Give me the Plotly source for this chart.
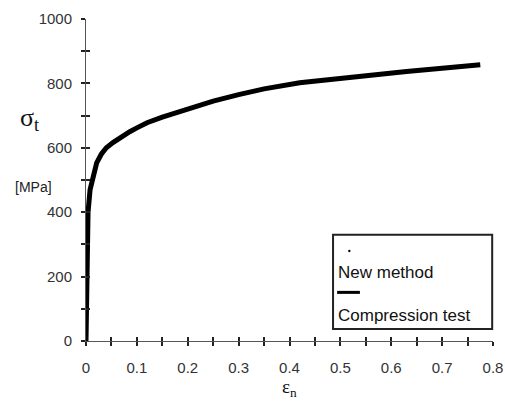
import plotly.graph_objects as go

# Compression test curve (true stress vs strain)
strain = [0, 0.001, 0.002, 0.004, 0.008, 0.015, 0.021, 0.03, 0.04, 0.053, 0.07, 0.086,
          0.1, 0.12, 0.15, 0.185, 0.22, 0.25, 0.3, 0.35, 0.42, 0.5, 0.55, 0.63, 0.7, 0.775]
stress = [0, 150, 300, 400, 470, 525, 553, 580, 600, 616, 635, 650,
          662, 678, 695, 713, 731, 745, 765, 783, 802, 816, 825, 837, 847, 858]

# New method points (scattered dots along the curve)
new_strain = [0.01, 0.03, 0.06, 0.09, 0.13, 0.17, 0.24, 0.31, 0.38, 0.45, 0.52, 0.6, 0.68, 0.75]
new_stress = [500, 585, 628, 655, 685, 705, 742, 770, 793, 807, 820, 833, 843, 854]

# Tick positions (labels only on every other tick)
x_ticks = [0, 0.05, 0.1, 0.15, 0.2, 0.25, 0.3, 0.35, 0.4, 0.45, 0.5, 0.55, 0.6, 0.65, 0.7, 0.75, 0.8]
x_tick_text = ["0", "", "0.1", "", "0.2", "", "0.3", "", "0.4", "", "0.5", "", "0.6", "", "0.7", "", "0.8"]
y_ticks = [0, 100, 200, 300, 400, 500, 600, 700, 800, 900, 1000]
y_tick_text = ["0", "", "200", "", "400", "", "600", "", "800", "", "1000"]

fig = go.Figure()
fig.add_trace(go.Scatter(x=strain, y=stress, mode="lines",
                         line=dict(color="black", width=5), showlegend=False))
fig.add_trace(go.Scatter(x=new_strain, y=new_stress, mode="markers",
                         marker=dict(color="black", size=2), showlegend=False))
# empty trace to activate the overlay axes used for inner tick halves
fig.add_trace(go.Scatter(x=[None], y=[None], xaxis="x2", yaxis="y2", mode="markers",
                         showlegend=False, hoverinfo="skip"))

font = dict(family="Liberation Sans, Arial, sans-serif", size=15, color="#333")

tick_style = dict(showgrid=False, zeroline=False, showline=True, linecolor="#555",
                  linewidth=1, ticklen=4, tickcolor="#222", tickwidth=2, automargin=False)

fig.update_layout(
    width=505, height=401,
    margin=dict(l=86, r=12, t=19, b=60),
    paper_bgcolor="white", plot_bgcolor="white",
    font=font,
    xaxis=dict(range=[0, 0.8], tickvals=x_ticks, ticktext=x_tick_text,
               ticks="outside", ticklabelstandoff=9, **tick_style),
    yaxis=dict(range=[0, 1000], tickvals=y_ticks, ticktext=y_tick_text,
               ticks="outside", ticklabelstandoff=6, **tick_style),
    xaxis2=dict(range=[0, 0.8], tickvals=x_ticks, overlaying="x", side="bottom", anchor="y2",
                ticks="inside", showticklabels=False, **tick_style),
    yaxis2=dict(range=[0, 1000], tickvals=y_ticks, overlaying="y", side="left", anchor="x2",
                ticks="inside", showticklabels=False, **tick_style),
)

# Axis titles
fig.add_annotation(xref="paper", yref="paper", x=-0.14, y=0.69, xanchor="center", yanchor="middle",
                   text="σ<sub>t</sub>", showarrow=False,
                   font=dict(family="Liberation Serif, Times New Roman, serif", size=26, color="#111"))
fig.add_annotation(xref="paper", yref="paper", x=-0.13, y=0.478, xanchor="center", yanchor="middle",
                   text="[MPa]", showarrow=False, font=dict(family="Liberation Sans, Arial", size=14, color="#222"))
fig.add_annotation(xref="paper", yref="paper", x=0.5, y=-0.1865, xanchor="center", yanchor="bottom",
                   text="ε<sub>n</sub>", showarrow=False, borderpad=0,
                   font=dict(family="Liberation Serif, Times New Roman, serif", size=19, color="#111"))

# Custom legend box
fig.add_shape(type="rect", xref="paper", yref="paper", x0=0.607, x1=0.998, y0=0.037, y1=0.33,
              line=dict(color="#222", width=2), fillcolor="white", layer="above")
fig.add_shape(type="circle", xref="paper", yref="paper", x0=0.644, x1=0.65, y0=0.276, y1=0.283,
              line=dict(color="black", width=0), fillcolor="black", layer="above")
fig.add_annotation(xref="paper", yref="paper", x=0.614, y=0.212, xanchor="left", yanchor="middle",
                   text="New method", showarrow=False, font=dict(family="Liberation Sans, Arial", size=17, color="#111"))
fig.add_shape(type="line", xref="paper", yref="paper", x0=0.617, x1=0.673, y0=0.151, y1=0.151,
              line=dict(color="black", width=3), layer="above")
fig.add_annotation(xref="paper", yref="paper", x=0.614, y=0.08, xanchor="left", yanchor="middle",
                   text="Compression test", showarrow=False, font=dict(family="Liberation Sans, Arial", size=17, color="#111"))

fig.write_html("out.html")
